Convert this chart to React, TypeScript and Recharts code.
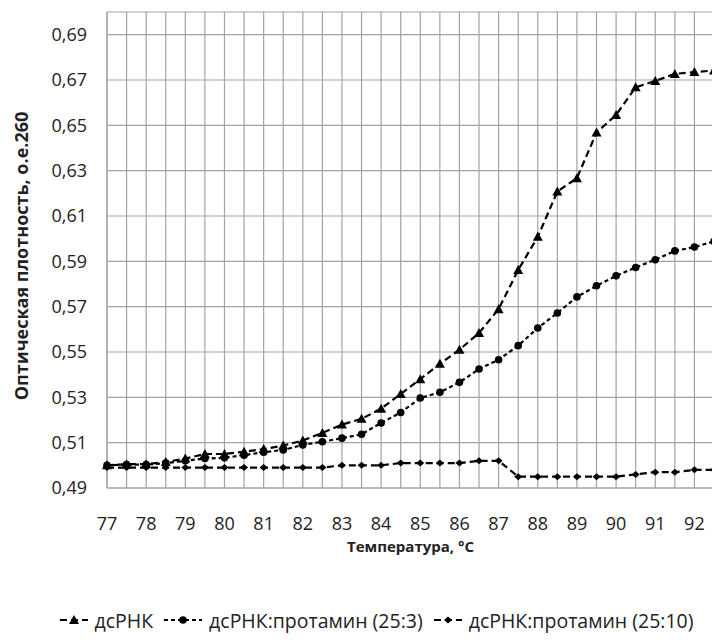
import React from "react";
import { CartesianGrid, Legend, Line, LineChart, XAxis, YAxis } from "recharts";

const temps = [
  77, 77.5, 78, 78.5, 79, 79.5, 80, 80.5, 81, 81.5, 82, 82.5, 83, 83.5, 84, 84.5,
  85, 85.5, 86, 86.5, 87, 87.5, 88, 88.5, 89, 89.5, 90, 90.5, 91, 91.5, 92, 92.5,
];

// дсРНК
const dsRna = [
  0.5, 0.5005, 0.5005, 0.5015, 0.503, 0.505, 0.505, 0.506, 0.5072, 0.5087, 0.511, 0.5143,
  0.518, 0.5205, 0.525, 0.5315, 0.538, 0.5448, 0.551, 0.5584, 0.5689, 0.5862, 0.6008,
  0.6208, 0.6267, 0.6468, 0.6546, 0.6668, 0.6696, 0.6727, 0.6735, 0.6742,
];

// дсРНК:протамин (25:3)
const prot3 = [
  0.5, 0.5003, 0.5003, 0.501, 0.502, 0.503, 0.5033, 0.5045, 0.5058, 0.5068, 0.509, 0.5104,
  0.512, 0.5137, 0.5187, 0.5233, 0.5297, 0.5322, 0.5366, 0.5425, 0.5466, 0.5528, 0.5606,
  0.5672, 0.5743, 0.5792, 0.5836, 0.5873, 0.5907, 0.5946, 0.5963, 0.5988,
];

// дсРНК:протамин (25:10)
const prot10 = [
  0.499, 0.499, 0.499, 0.499, 0.499, 0.499, 0.499, 0.499, 0.499, 0.499, 0.499, 0.499,
  0.5, 0.5, 0.5, 0.501, 0.501, 0.501, 0.501, 0.502, 0.502, 0.495, 0.495, 0.495, 0.495,
  0.495, 0.495, 0.496, 0.497, 0.497, 0.498, 0.498,
];

const yTicks = [0.49, 0.51, 0.53, 0.55, 0.57, 0.59, 0.61, 0.63, 0.65, 0.67, 0.69];

const seriesNames = ["дсРНК", "дсРНК:протамин (25:3)", "дсРНК:протамин (25:10)"];

const data = temps.map((t, i) => ({ t, a: dsRna[i], b: prot3[i], c: prot10[i] }));

const FONT = "'Open Sans', sans-serif";
const GRID = "#a3a3a3";

function triangle(cx: number, cy: number, key?: string) {
  return <path key={key} d={`M${cx},${cy - 5}L${cx + 5},${cy + 4}L${cx - 5},${cy + 4}Z`} fill="#000" />;
}
function dot(cx: number, cy: number, key?: string) {
  return <circle key={key} cx={cx} cy={cy} r={3.8} fill="#000" />;
}
function diamond(cx: number, cy: number, key?: string) {
  return <path key={key} d={`M${cx},${cy - 3.5}L${cx + 4},${cy}L${cx},${cy + 3.5}L${cx - 4},${cy}Z`} fill="#000" />;
}

const series = [
  { key: "a", dash: "7 4", marker: triangle, icon: 30 },
  { key: "b", dash: "4 3", marker: dot, icon: 40 },
  { key: "c", dash: "7 4", marker: diamond, icon: 30 },
];

function LegendBox() {
  return (
    <div
      style={{
        height: 30,
        display: "flex",
        justifyContent: "center",
        alignItems: "center",
        fontFamily: FONT,
        fontSize: 19.5,
        color: "#222",
        whiteSpace: "nowrap",
      }}
    >
      {series.map((s, i) => (
        <span key={s.key} style={{ display: "flex", alignItems: "center", marginRight: i < 2 ? 10 : 0 }}>
          <svg width={s.icon} height={14} style={{ marginRight: 6 }}>
            <line x1={1} y1={7} x2={s.icon - 1} y2={7} stroke="#000" strokeWidth={2} strokeDasharray={s.dash} />
            {s.marker(s.icon / 2, 7)}
          </svg>
          {seriesNames[i]}
        </span>
      ))}
    </div>
  );
}

export default function App() {
  return (
    <div style={{ position: "fixed", left: 0, top: 0, width: 712, height: 644, overflow: "hidden", background: "#fff" }}>
      <LineChart width={752} height={644} data={data} margin={{ top: 12, right: 38, left: 0, bottom: 9 }}>
        <CartesianGrid stroke={GRID} strokeWidth={1.2} />
        <XAxis
          dataKey="t"
          type="number"
          domain={[77, 92.5]}
          ticks={temps}
          interval={0}
          tickFormatter={(v: number) => (Number.isInteger(v) ? String(v) : "")}
          axisLine={{ stroke: GRID, strokeWidth: 1.2 }}
          tickLine={false}
          tickSize={0}
          tickMargin={29}
          height={117}
          tick={{ fontFamily: FONT, fontSize: 18, fill: "#222" }}
          label={{
            value: "Температура, °C",
            position: "center",
            dy: 0,
            style: { fontFamily: FONT, fontSize: 15, fontWeight: 700, fill: "#222" },
          }}
        />
        <YAxis
          type="number"
          domain={[0.49, 0.7]}
          ticks={yTicks}
          width={107}
          tickFormatter={(v: number) => v.toFixed(2).replace(".", ",")}
          axisLine={{ stroke: GRID, strokeWidth: 1.2 }}
          tickLine={false}
          tickSize={0}
          tickMargin={20}
          tick={{ fontFamily: FONT, fontSize: 18, fill: "#222" }}
          label={{
            value: "Оптическая плотность, о.е.260",
            angle: -90,
            position: "center",
            dx: -32,
            dy: 6,
            style: { fontFamily: FONT, fontSize: 18, fontWeight: 700, fill: "#222" },
          }}
        />
        <Legend
          verticalAlign="bottom"
          wrapperStyle={{ left: 0, width: 752 }}
          content={() => <LegendBox />}
        />
        {series.map((s) => (
          <Line
            key={s.key}
            dataKey={s.key}
            name={s.key}
            stroke="#000"
            strokeWidth={2.2}
            strokeDasharray={s.dash}
            isAnimationActive={false}
            dot={(p: any) => s.marker(p.cx, p.cy, `${s.key}-${p.index}`)}
            activeDot={false}
          />
        ))}
      </LineChart>
    </div>
  );
}
